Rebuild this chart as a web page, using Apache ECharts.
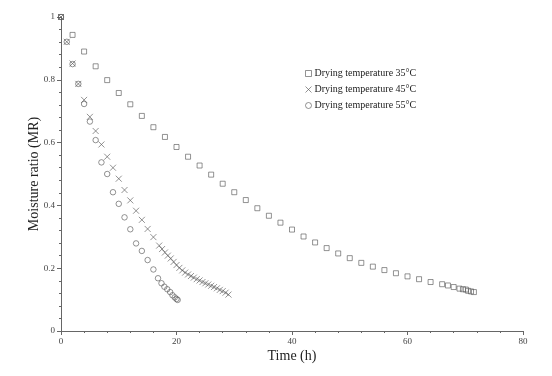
<!DOCTYPE html>
<html>
<head>
<meta charset="utf-8">
<script src="https://cdn.jsdelivr.net/npm/echarts@6/dist/echarts.min.js"></script>
<style>
  html, body { margin: 0; padding: 0; background: #fff; }
  #chart { width: 552px; height: 376px; }
</style>
</head>
<body>
<div id="chart"></div>
<script>
// drying at 35 °C
const time35 = [0, 2, 4, 6, 8, 10, 12, 14, 16, 18, 20, 22, 24, 26, 28, 30, 32, 34, 36, 38, 40,
  42, 44, 46, 48, 50, 52, 54, 56, 58, 60, 62, 64, 66, 67, 68, 69, 69.6, 70.1, 70.5, 71, 71.5]
const mr35 = [1, 0.943, 0.890, 0.843, 0.799, 0.758, 0.722, 0.685, 0.649, 0.618, 0.586, 0.555,
  0.527, 0.498, 0.469, 0.442, 0.417, 0.391, 0.367, 0.345, 0.323, 0.301, 0.282, 0.264, 0.247,
  0.232, 0.217, 0.205, 0.194, 0.184, 0.174, 0.165, 0.156, 0.149, 0.145, 0.140, 0.135, 0.133,
  0.132, 0.128, 0.126, 0.124]

// drying at 45 °C
const time45 = [0, 1, 2, 3, 4, 5, 6, 7, 8, 9, 10, 11, 12, 13, 14, 15, 16,
  17, 17.5, 18, 18.5, 19, 19.5, 20, 20.5, 21, 21.5, 22, 22.5, 23, 23.5, 24, 24.5,
  25, 25.5, 26, 26.5, 27, 27.5, 28, 28.5, 29]
const mr45 = [1, 0.921, 0.852, 0.787, 0.736, 0.682, 0.637, 0.594, 0.555, 0.520, 0.485, 0.449,
  0.416, 0.383, 0.354, 0.325, 0.299,
  0.272, 0.261, 0.250, 0.240, 0.231, 0.220, 0.210, 0.201, 0.193, 0.186, 0.180, 0.175, 0.170,
  0.165, 0.161, 0.156, 0.152, 0.148, 0.144, 0.140, 0.136, 0.131, 0.127, 0.122, 0.116]

// drying at 55 °C
const time55 = [0, 1, 2, 3, 4, 5, 6, 7, 8, 9, 10, 11, 12, 13, 14, 15, 16,
  16.8, 17.4, 17.9, 18.4, 18.9, 19.3, 19.7, 20, 20.2]
const mr55 = [1, 0.921, 0.850, 0.787, 0.723, 0.667, 0.608, 0.537, 0.500, 0.442, 0.405, 0.362,
  0.324, 0.279, 0.255, 0.226, 0.196,
  0.168, 0.152, 0.141, 0.133, 0.124, 0.114, 0.107, 0.102, 0.099]

const names = ['Drying temperature 35°C', 'Drying temperature 45°C', 'Drying temperature 55°C']

const serif = "'Liberation Serif', 'Times New Roman', serif"
const ink = '#555'
const crossPath = 'path://M0,0L10,10M10,0L0,10'

const pairs = (xs, ys) => xs.map((x, i) => [x, ys[i]])

const markStyle = { color: 'none', borderColor: ink, borderWidth: 0.8 }

const chart = echarts.init(document.getElementById('chart'))

chart.setOption({
  animation: false,
  backgroundColor: '#fff',
  grid: { left: 61, right: 29, top: 17, bottom: 45 },
  legend: {
    orient: 'vertical',
    left: 298,
    top: 63,
    itemWidth: 6,
    itemHeight: 6,
    itemGap: 5,
    textStyle: { fontFamily: serif, fontSize: 10, color: '#222', padding: [0, 0, 0, -2] },
    data: [
      { name: names[0], icon: 'rect', itemStyle: markStyle },
      { name: names[1], icon: crossPath, itemStyle: markStyle },
      { name: names[2], icon: 'circle', itemStyle: markStyle }
    ]
  },
  xAxis: {
    type: 'value',
    min: 0,
    max: 80,
    interval: 20,
    name: 'Time (h)',
    nameLocation: 'middle',
    nameGap: 18,
    nameMoveOverlap: false,
    nameTextStyle: { fontFamily: serif, fontSize: 14, color: '#222' },
    splitLine: { show: false },
    axisLine: { lineStyle: { color: '#666', width: 1 } },
    axisTick: { length: 4, lineStyle: { color: '#666' } },
    minorTick: { show: true, splitNumber: 5, length: 2, lineStyle: { color: '#666' } },
    axisLabel: { fontFamily: serif, fontSize: 9, color: '#444', margin: 6 }
  },
  yAxis: {
    type: 'value',
    min: 0,
    max: 1,
    interval: 0.2,
    name: 'Moisture ratio (MR)',
    nameLocation: 'middle',
    nameGap: 20,
    nameMoveOverlap: false,
    nameTextStyle: { fontFamily: serif, fontSize: 14, color: '#222' },
    splitLine: { show: false },
    axisLine: { show: true, lineStyle: { color: '#666', width: 1 } },
    axisTick: { show: true, length: 4, lineStyle: { color: '#666' } },
    minorTick: { show: true, splitNumber: 5, length: 2, lineStyle: { color: '#666' } },
    axisLabel: { fontFamily: serif, fontSize: 9, color: '#444', margin: 6 }
  },
  series: [
    {
      name: names[0],
      type: 'scatter',
      symbol: 'rect',
      symbolSize: 5,
      itemStyle: markStyle,
      data: pairs(time35, mr35)
    },
    {
      name: names[1],
      type: 'scatter',
      symbol: crossPath,
      symbolSize: 6,
      itemStyle: markStyle,
      data: pairs(time45, mr45)
    },
    {
      name: names[2],
      type: 'scatter',
      symbol: 'circle',
      symbolSize: 5.5,
      itemStyle: markStyle,
      data: pairs(time55, mr55)
    }
  ]
})
</script>
</body>
</html>
